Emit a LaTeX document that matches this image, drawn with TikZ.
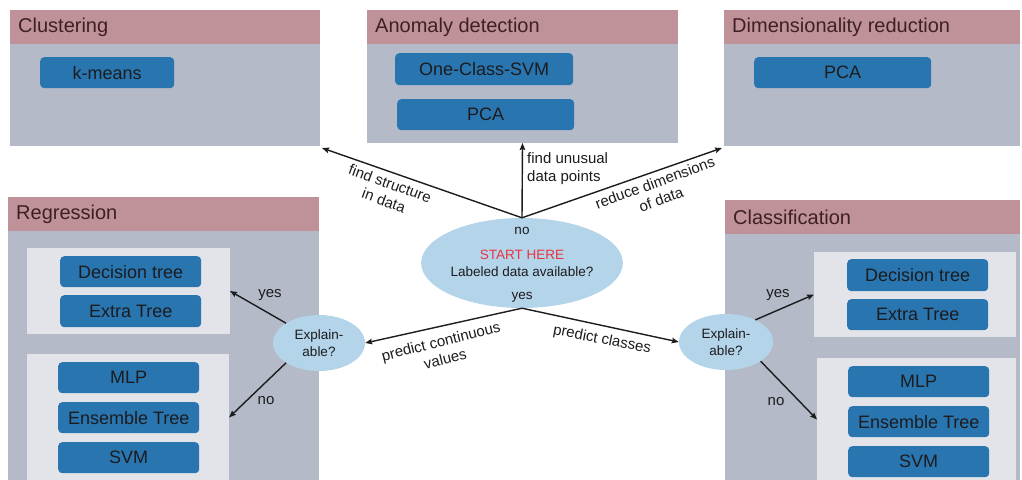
\documentclass[tikz,border=0pt]{standalone}
\usepackage{fontspec}
\setmainfont{Liberation Sans}
\usetikzlibrary{arrows.meta,shapes.geometric}

\definecolor{hdrfill}{RGB}{191,146,153}
\definecolor{bodyfill}{RGB}{180,186,200}
\definecolor{innerfill}{RGB}{226,228,234}
\definecolor{btnfill}{RGB}{41,117,176}
\definecolor{bubblefill}{RGB}{180,212,234}
\definecolor{hdrtext}{RGB}{62,32,36}
\definecolor{starttext}{RGB}{232,52,64}
\definecolor{ink}{RGB}{28,28,30}

\tikzset{
  panelbody/.style={fill=bodyfill, draw=none, anchor=north west, inner sep=0pt, outer sep=0pt},
  panelhead/.style={fill=hdrfill, draw=none, anchor=north west, inner sep=0pt, outer sep=0pt, minimum height=34pt},
  headtext/.style={anchor=west, inner sep=0pt, text=hdrtext, font=\fontsize{20}{24}\selectfont},
  group/.style={fill=innerfill, draw=none, anchor=north west, inner sep=0pt, outer sep=0pt},
  algo/.style={fill=btnfill, draw=none, rounded corners=4pt, anchor=north west, inner sep=0pt,
               text=ink, font=\fontsize{18}{21}\selectfont},
  bubble/.style={ellipse, fill=bubblefill, draw=none, inner sep=0pt, align=center,
                 text=ink, font=\fontsize{13.5}{17}\selectfont},
  arr/.style={-{Stealth[length=7pt,width=5.5pt,inset=1pt]}, line width=1.4pt, draw=ink},
  edgetext/.style={inner sep=0pt, align=center, text=ink, font=\fontsize{15}{18}\selectfont},
  smalltext/.style={inner sep=0pt, text=ink, font=\fontsize{13.5}{16}\selectfont},
}

\begin{document}
\begin{tikzpicture}[x=1pt,y=-1pt]
\useasboundingbox (0,0) rectangle (1022,479);

% ---------- Clustering ----------
\node[panelbody, minimum width=310pt, minimum height=136pt] (clu) at (10,10) {};
\node[panelhead, minimum width=310pt] (cluh) at (10,10) {};
\node[headtext] (clut) at ([xshift=8pt]cluh.west) {Clustering};
\node[algo, minimum width=134pt, minimum height=31pt] (kmeans) at (40,57) {k-means};

% ---------- Anomaly detection ----------
\node[panelbody, minimum width=311pt, minimum height=133pt] (ano) at (367,10) {};
\node[panelhead, minimum width=311pt] (anoh) at (367,10) {};
\node[headtext] (anot) at ([xshift=8pt]anoh.west) {Anomaly detection};
\node[algo, minimum width=178pt, minimum height=32pt] (ocsvm) at (395,53) {One-Class-SVM};
\node[algo, minimum width=177pt, minimum height=31pt] (pcaA) at (397,99) {PCA};

% ---------- Dimensionality reduction ----------
\node[panelbody, minimum width=296pt, minimum height=136pt] (dim) at (724,10) {};
\node[panelhead, minimum width=296pt] (dimh) at (724,10) {};
\node[headtext] (dimt) at ([xshift=8pt]dimh.west) {Dimensionality reduction};
\node[algo, minimum width=177pt, minimum height=31pt] (pcaD) at (754,57) {PCA};

% ---------- Regression ----------
\node[panelbody, minimum width=311pt, minimum height=284pt] (reg) at (8,197) {};
\node[panelhead, minimum width=311pt] (regh) at (8,197) {};
\node[headtext] (regt) at ([xshift=8pt]regh.west) {Regression};
\node[group, minimum width=203pt, minimum height=86pt] (regA) at (27,248) {};
\node[group, minimum width=202pt, minimum height=127pt] (regB) at (27,354) {};
\node[algo, minimum width=141pt, minimum height=31pt] (rdt) at (60,256) {Decision tree};
\node[algo, minimum width=141pt, minimum height=32pt] (ret) at (60,295) {Extra Tree};
\node[algo, minimum width=141pt, minimum height=31pt] (rmlp) at (58,362) {MLP};
\node[algo, minimum width=141pt, minimum height=31pt] (rens) at (58,402) {Ensemble Tree};
\node[algo, minimum width=141pt, minimum height=31pt] (rsvm) at (58,442) {SVM};

% ---------- Classification ----------
\node[panelbody, minimum width=295pt, minimum height=281pt] (cls) at (725,200) {};
\node[panelhead, minimum width=295pt] (clsh) at (725,200) {};
\node[headtext] (clst) at ([xshift=8pt]clsh.west) {Classification};
\node[group, minimum width=202pt, minimum height=85pt] (clsA) at (814,252) {};
\node[group, minimum width=199pt, minimum height=123pt] (clsB) at (817,358) {};
\node[algo, minimum width=141pt, minimum height=32pt] (cdt) at (847,259) {Decision tree};
\node[algo, minimum width=141pt, minimum height=31pt] (cet) at (847,299) {Extra Tree};
\node[algo, minimum width=141pt, minimum height=31pt] (cmlp) at (848,366) {MLP};
\node[algo, minimum width=141pt, minimum height=31pt] (cens) at (848,406) {Ensemble Tree};
\node[algo, minimum width=141pt, minimum height=31pt] (csvm) at (848,446) {SVM};

% ---------- Decision bubbles ----------
\node[bubble, minimum width=158pt, minimum height=90pt] (start) at (522,263)
  {\textcolor{starttext}{START HERE}\\Labeled data available?};
\node[smalltext] (nolbl) at (522,231) {no};
\node[smalltext] (yeslbl) at (522,297) {yes};
\node[bubble, minimum width=92pt, minimum height=56pt] (regx) at (319,343) {Explain-\\able?};
\node[bubble, minimum width=94pt, minimum height=56pt] (clsx) at (726,342) {Explain-\\able?};

% ---------- Connectors ----------
\draw[arr] (start.north) -- ([shift={(2,2)}]clu.south east);
\draw[arr] (start.north) -- (ano.south);
\draw[arr] (start.north) -- ([shift={(-2,2)}]dim.south west);
\draw[arr] (start.south) -- (regx.east);
\draw[arr] (start.south) -- (clsx.west);
\draw[arr] (regx.149) -- (regA.east);
\draw[arr] (regx.211) -- (regB.east);
\draw[arr] (clsx.37) -- (clsA.west);
\draw[arr] (clsx.-29) -- (clsB.west);

% ---------- Connector labels ----------
\node[edgetext, rotate=-20] (lclu) at (387,192) {find structure\\in data};
\node[edgetext, anchor=west, align=left] (lano) at (527,169) {find unusual\\data points};
\node[edgetext, rotate=20] (ldim) at (658,191) {reduce dimensions\\of data};
\node[edgetext, rotate=14] (lreg) at (443,350) {predict continuous\\values};
\node[edgetext, rotate=-11] (lcls) at (602,340) {predict classes};
\node[edgetext] (ryes) at (270,295) {yes};
\node[edgetext] (rno) at (266,401) {no};
\node[edgetext] (cyes) at (778,295) {yes};
\node[edgetext] (cno) at (776,402) {no};
\end{tikzpicture}
\end{document}
